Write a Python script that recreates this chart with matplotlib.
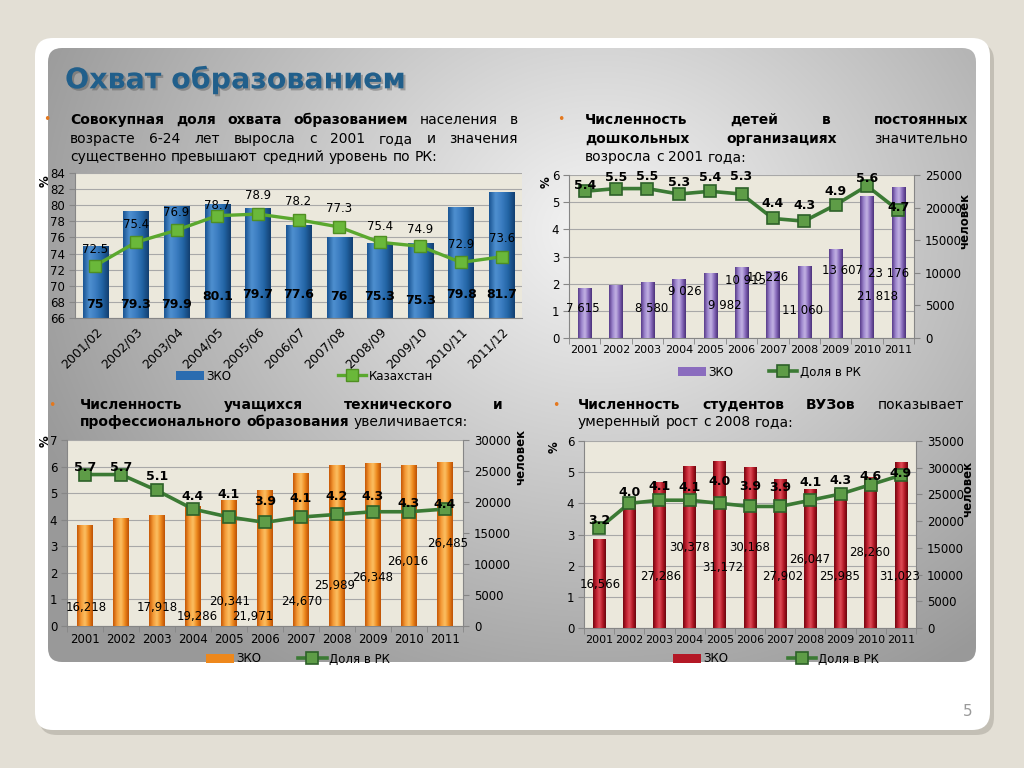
import numpy as np
import matplotlib.pyplot as plt
import matplotlib.patheffects as pe
from matplotlib.patches import FancyBboxPatch, Rectangle
from matplotlib.colors import LinearSegmentedColormap
from matplotlib.lines import Line2D

plt.rcParams['font.family'] = ['DejaVu Sans']

W, H = 1024, 768

# ---------- данные ----------
# График 1: совокупная доля охвата образованием, %
periods = ["2001/02", "2002/03", "2003/04", "2004/05", "2005/06", "2006/07",
           "2007/08", "2008/09", "2009/10", "2010/11", "2011/12"]
zko_cover = [75, 79.3, 79.9, 80.1, 79.7, 77.6, 76, 75.3, 75.3, 79.8, 81.7]
kz_cover = [72.5, 75.4, 76.9, 78.7, 78.9, 78.2, 77.3, 75.4, 74.9, 72.9, 73.6]

years = ["2001", "2002", "2003", "2004", "2005", "2006",
         "2007", "2008", "2009", "2010", "2011"]

# График 2: дети в дошкольных организациях
preschool = [7615, 8200, 8580, 9026, 9982, 10915, 10226, 11060, 13607, 21818, 23176]
preschool_lbl = ["7 615", "", "8 580", "9 026", "9 982", "10 915", "10 226",
                 "11 060", "13 607", "21 818", "23 176"]
preschool_share = [5.4, 5.5, 5.5, 5.3, 5.4, 5.3, 4.4, 4.3, 4.9, 5.6, 4.7]

# График 3: учащиеся технического и профессионального образования
tech = [16218, 17400, 17918, 19286, 20341, 21971, 24670, 25989, 26348, 26016, 26485]
tech_lbl = ["16,218", "", "17,918", "19,286", "20,341", "21,971", "24,670",
            "25,989", "26,348", "26,016", "26,485"]
tech_share = [5.7, 5.7, 5.1, 4.4, 4.1, 3.9, 4.1, 4.2, 4.3, 4.3, 4.4]

# График 4: студенты ВУЗов
univ = [16566, 24500, 27286, 30378, 31172, 30168, 27902, 26047, 25985, 28260, 31023]
univ_lbl = ["16,566", "", "27,286", "30,378", "31,172", "30,168", "27,902",
            "26,047", "25,985", "28,260", "31,023"]
univ_share = [3.2, 4.0, 4.1, 4.1, 4.0, 3.9, 3.9, 4.1, 4.3, 4.6, 4.9]

# ---------- расположение подписей (пиксели / единицы левой оси) ----------
dy_kz1 = [16, 18, 18, 10, 19, 18, 18, 16, 17, 18, 18]
dy_zko1 = [13, 13, 13, 21, 23, 23, 21, 21, 18, 23, 23]
dy_sh2 = [6, 11, 12, 12, 14, 18, 15, 16, 13, 7, 3]
dy_sh3 = [7, 7, 14, 13, 23, 21, 19, 18, 15, 8, 5]
dy_sh4 = [8, 11, 14, 13, 22, 20, 19, 18, 13, 8, 2]
pos_lbl2 = [1.07, 0, 1.07, 1.73, 1.21, 2.10, 2.21, 1.03, 2.47, 1.51, 2.39]
dx_lbl2 = [-2, 0, 4, 6, 15, 4, -5, -2, 7, 11, -10]
pos_lbl3 = [0.68, 0, 0.68, 0.34, 0.94, 0.34, 0.94, 1.51, 1.84, 2.41, 3.09]
dx_lbl3 = [1, 0, 0, 4, 1, -12, 1, -2, 0, -1, 3]
pos_lbl4 = [1.38, 0, 1.64, 2.57, 1.93, 2.57, 1.64, 2.21, 1.64, 2.41, 1.64]
dx_lbl4 = [1, 0, 1, 0, 3, 0, 3, -1, -1, -1, -1]

PLOT_BG = '#ebe8dc'
GRID = '#a8a8a8'
AXC = '#868686'
BLUE = ['#1a5592', '#4f90d0', '#3a7cc0', '#2264a4', '#133f70']
PURPLE = ['#563a88', '#9c84cc', '#c4b4e4', '#8668ba', '#4a3078']
ORANGE = ['#c65604', '#f49a36', '#fcc064', '#ee881c', '#bc5004']
RED = ['#72060f', '#c01e2e', '#e0505a', '#b41826', '#68050d']
GREEN_D = dict(color='#3b7a34', lw=2.6, marker='s', ms=9, mfc='#5e9c47', mec='#2d6129', mew=1.2)
GREEN_L = dict(color='#5aa82e', lw=2.4, marker='s', ms=8, mfc='#6ab83a', mec='#4f8f22', mew=1.0)


def px_box(x0, y0, x1, y1):
    return [x0 / W, 1 - y1 / H, (x1 - x0) / W, (y1 - y0) / H]


def grad_bars(ax, bars, colors):
    # градиентная заливка столбцов, обрезанная по видимой области оси
    cmap = LinearSegmentedColormap.from_list('g', colors)
    grad = np.linspace(0, 1, 64).reshape(1, -1)
    lo, hi = ax.get_ylim()
    for b in bars:
        x0 = b.get_x()
        y0 = max(b.get_y(), lo)
        y1 = min(b.get_y() + b.get_height(), hi)
        im = ax.imshow(grad, cmap=cmap, aspect='auto', interpolation='bicubic',
                       extent=(x0, x0 + b.get_width(), y0, y1), zorder=b.get_zorder())
        im.set_clip_path(b)
    ax.set_ylim(lo, hi)


def x_style(ax, n, size):
    ax.set_xlim(-0.5, n - 0.5)
    ax.set_xticks(np.arange(n))
    ax.set_xticks(np.arange(-0.5, n, 1), minor=True)
    ax.tick_params(axis='x', which='major', length=0, labelsize=size, pad=5)
    ax.tick_params(axis='x', which='minor', length=4, color=AXC)
    for s in ['top', 'right']:
        ax.spines[s].set_visible(False)
    for s in ['left', 'bottom']:
        ax.spines[s].set_color(AXC)
    ax.tick_params(axis='y', length=4, color=AXC, labelsize=8.5, pad=3)


fig = plt.figure(figsize=(W / 100, H / 100), dpi=100)
fig.patch.set_facecolor('#e3dfd5')
bg = fig.add_axes([0, 0, 1, 1])
bg.axis('off')

# подложка слайда
bg.add_patch(FancyBboxPatch((39, 43), 955, 692, boxstyle='round,pad=0,rounding_size=18',
                            fc='#bcb8ae', ec='none', alpha=0.8))
bg.add_patch(FancyBboxPatch((35, 38), 955, 692, boxstyle='round,pad=0,rounding_size=18',
                            fc='white', ec='none'))
inner = FancyBboxPatch((48, 48), 928, 614, boxstyle='round,pad=0,rounding_size=14',
                       fc='none', ec='none')
bg.add_patch(inner)
yy, xx = np.mgrid[48:662, 48:976]
d = np.sqrt(((xx - 600) / 560.0) ** 2 + ((yy - 230) / 480.0) ** 2)
v = np.clip(0.96 - 0.33 * d, 0.6, 0.96)
img = bg.imshow(np.dstack([v, v, v]), extent=(48, 976, 662, 48), aspect='auto', zorder=1)
img.set_clip_path(inner)
bg.set_xlim(0, W)
bg.set_ylim(H, 0)

# заголовок
bg.text(65, 80, 'Охват образованием', fontsize=20.5, fontweight='bold', color='#215f8b',
        va='center', ha='left', zorder=5,
        path_effects=[pe.withSimplePatchShadow(offset=(1.5, -1.5), shadow_rgbFace='#404040', alpha=0.35)])
bg.text(968, 712, '5', fontsize=11, color='#9a9a9a', ha='center', va='center')

renderer = fig.canvas.get_renderer()


def text_line(words, x0, x1, y, size, justify=True):
    arts = [bg.text(0, y, w, fontsize=size, fontweight='bold' if b else 'normal',
                    va='center', ha='left', zorder=5) for w, b in words]
    widths = [a.get_window_extent(renderer).width for a in arts]
    if justify and len(arts) > 1:
        gap = (x1 - x0 - sum(widths)) / (len(arts) - 1)
    else:
        gap = 0.32 * size * 100 / 72
    x = x0
    for a, w in zip(arts, widths):
        a.set_x(x)
        x += w + gap


def words(s, bold):
    return [(w, bold) for w in s.split()]


def bullet(x, y):
    bg.text(x, y, '•', fontsize=9, color='#e4781e', ha='center', va='center', zorder=5)


TS = 10
bullet(47, 120)
text_line(words('Совокупная доля охвата образованием', True) + words('населения в', False),
          70, 518, 120, TS)
text_line(words('возрасте 6-24 лет выросла с 2001 года и значения', False), 70, 518, 139, TS)
text_line(words('существенно превышают средний уровень по РК:', False), 70, 518, 157, TS, False)

bullet(561, 120)
text_line(words('Численность детей в постоянных', True), 585, 968, 120, TS)
text_line(words('дошкольных организациях', True) + words('значительно', False), 585, 968, 139, TS)
text_line(words('возросла с 2001 года:', False), 585, 968, 157, TS, False)

bullet(52, 405)
text_line(words('Численность учащихся технического и', True), 80, 503, 405, TS)
text_line(words('профессионального образования', True) + words('увеличивается:', False),
          80, 503, 422, TS, False)

bullet(556, 405)
text_line(words('Численность студентов ВУЗов', True) + words('показывает', False), 578, 964, 405, TS)
text_line(words('умеренный рост с 2008 года:', False), 578, 964, 422, TS, False)


def legend(ax, color, line_style, label2, x, y, gap):
    h = [Rectangle((0, 0), 1, 1, fc=color, ec='none'), Line2D([], [], **line_style)]
    ax.legend(h, ['ЗКО', label2], loc='center left', bbox_to_anchor=(x, y),
              bbox_transform=bg.transData, ncol=2, frameon=False, fontsize=8.5,
              borderpad=0, handlelength=2.4, handletextpad=0.2, columnspacing=gap)


# ---------- График 1 ----------
x = np.arange(len(periods))
ax1 = fig.add_axes(px_box(75, 173, 522, 318))
ax1.set_facecolor(PLOT_BG)
ax1.set_ylim(66, 84)
bars = ax1.bar(x, zko_cover, width=0.62, color='#2b6cb0', zorder=2)
ax1.set_ylim(66, 84)
grad_bars(ax1, bars, BLUE)
ax1.plot(x, kz_cover, zorder=4, **GREEN_L)
ax1.set_yticks(np.arange(66, 85, 2))
ax1.yaxis.grid(True, color=GRID, lw=0.8)
ax1.set_axisbelow(True)
x_style(ax1, len(periods), 9)
ax1.set_xticklabels(periods, rotation=45, ha='right', va='top', rotation_mode='anchor')
ax1.tick_params(axis='x', which='minor', length=0)
for i, val in enumerate(kz_cover):
    ax1.annotate(f"{val:g}", (i, val), xytext=(0, dy_kz1[i]), textcoords='offset pixels',
                 ha='center', va='center', fontsize=8.5, zorder=6)
for i, val in enumerate(zko_cover):
    ax1.annotate(f"{val:g}", (i, 66), xytext=(0, dy_zko1[i]), textcoords='offset pixels',
                 ha='center', va='center', fontsize=9, fontweight='bold', zorder=6)
legend(ax1, '#2b6cb0', GREEN_L, 'Казахстан', 170, 376, 9.0)
bg.text(45, 181, '%', rotation=90, fontsize=8.5, fontweight='bold', ha='center', va='center', zorder=5)


# ---------- Графики 2-4 ----------
def combo(box, vals, lbls, lbl_y, lbl_dx, share, dy_share, lmax, rmax, colors, leg_color,
          bar_w, xsize, leg_x, leg_y, leg_gap):
    n = len(years)
    xi = np.arange(n)
    ax = fig.add_axes(px_box(*box))
    ax.set_facecolor(PLOT_BG)
    ax.set_ylim(0, lmax)
    ax.set_yticks(np.arange(0, lmax + 1))
    ax.yaxis.grid(True, color=GRID, lw=0.8)
    ax.set_axisbelow(True)
    x_style(ax, n, xsize)
    ax.set_xticklabels(years)

    axb = ax.twinx()
    b = axb.bar(xi, vals, width=bar_w, color=leg_color, zorder=2)
    axb.set_ylim(0, rmax)
    grad_bars(axb, b, colors)
    axb.set_yticks(np.arange(0, rmax + 1, 5000))
    for s in ['top', 'left', 'bottom']:
        axb.spines[s].set_visible(False)
    axb.spines['right'].set_color(AXC)
    axb.tick_params(axis='y', length=4, color=AXC, labelsize=8.5, pad=4)
    axb.set_xlim(-0.5, n - 0.5)

    axl = ax.twinx()
    axl.set_ylim(0, lmax)
    axl.set_xlim(-0.5, n - 0.5)
    axl.axis('off')
    axl.plot(xi, share, zorder=3, **GREEN_D)
    for i, val in enumerate(share):
        axl.annotate(f"{val:.1f}", (i, val), xytext=(0, dy_share[i]), textcoords='offset pixels',
                     ha='center', va='center', fontsize=9, fontweight='bold', zorder=5)
    for i, t in enumerate(lbls):
        if t:
            axl.annotate(t, (i, lbl_y[i]), xytext=(lbl_dx[i], 0), textcoords='offset pixels',
                         ha='center', va='center', fontsize=8.5, zorder=5)
    legend(axl, leg_color, GREEN_D, 'Доля в РК', leg_x, leg_y, leg_gap)
    return ax


combo((569, 175, 914, 338), preschool, preschool_lbl, pos_lbl2, dx_lbl2, preschool_share, dy_sh2,
      6, 25000, PURPLE, '#8a6cbe', 0.42, 8, 672, 372, 3.0)
combo((67, 440, 463, 626), tech, tech_lbl, pos_lbl3, dx_lbl3, tech_share, dy_sh3,
      7, 30000, ORANGE, '#ee881c', 0.44, 8.5, 200, 659, 3.1)
combo((584, 441, 916, 628), univ, univ_lbl, pos_lbl4, dx_lbl4, univ_share, dy_sh4,
      6, 35000, RED, '#b41826', 0.42, 8, 667, 659, 5.0)

for (x0, y0) in [(546, 182), (45, 441), (554, 447)]:
    bg.text(x0, y0, '%', rotation=90, fontsize=8.5, fontweight='bold', ha='center', va='center', zorder=5)
for (x0, y0) in [(965, 221), (521, 457), (968, 489)]:
    bg.text(x0, y0, 'человек', rotation=90, fontsize=8.5, fontweight='bold', ha='center', va='center', zorder=5)

fig.savefig('out.png', dpi=100, facecolor=fig.get_facecolor())
